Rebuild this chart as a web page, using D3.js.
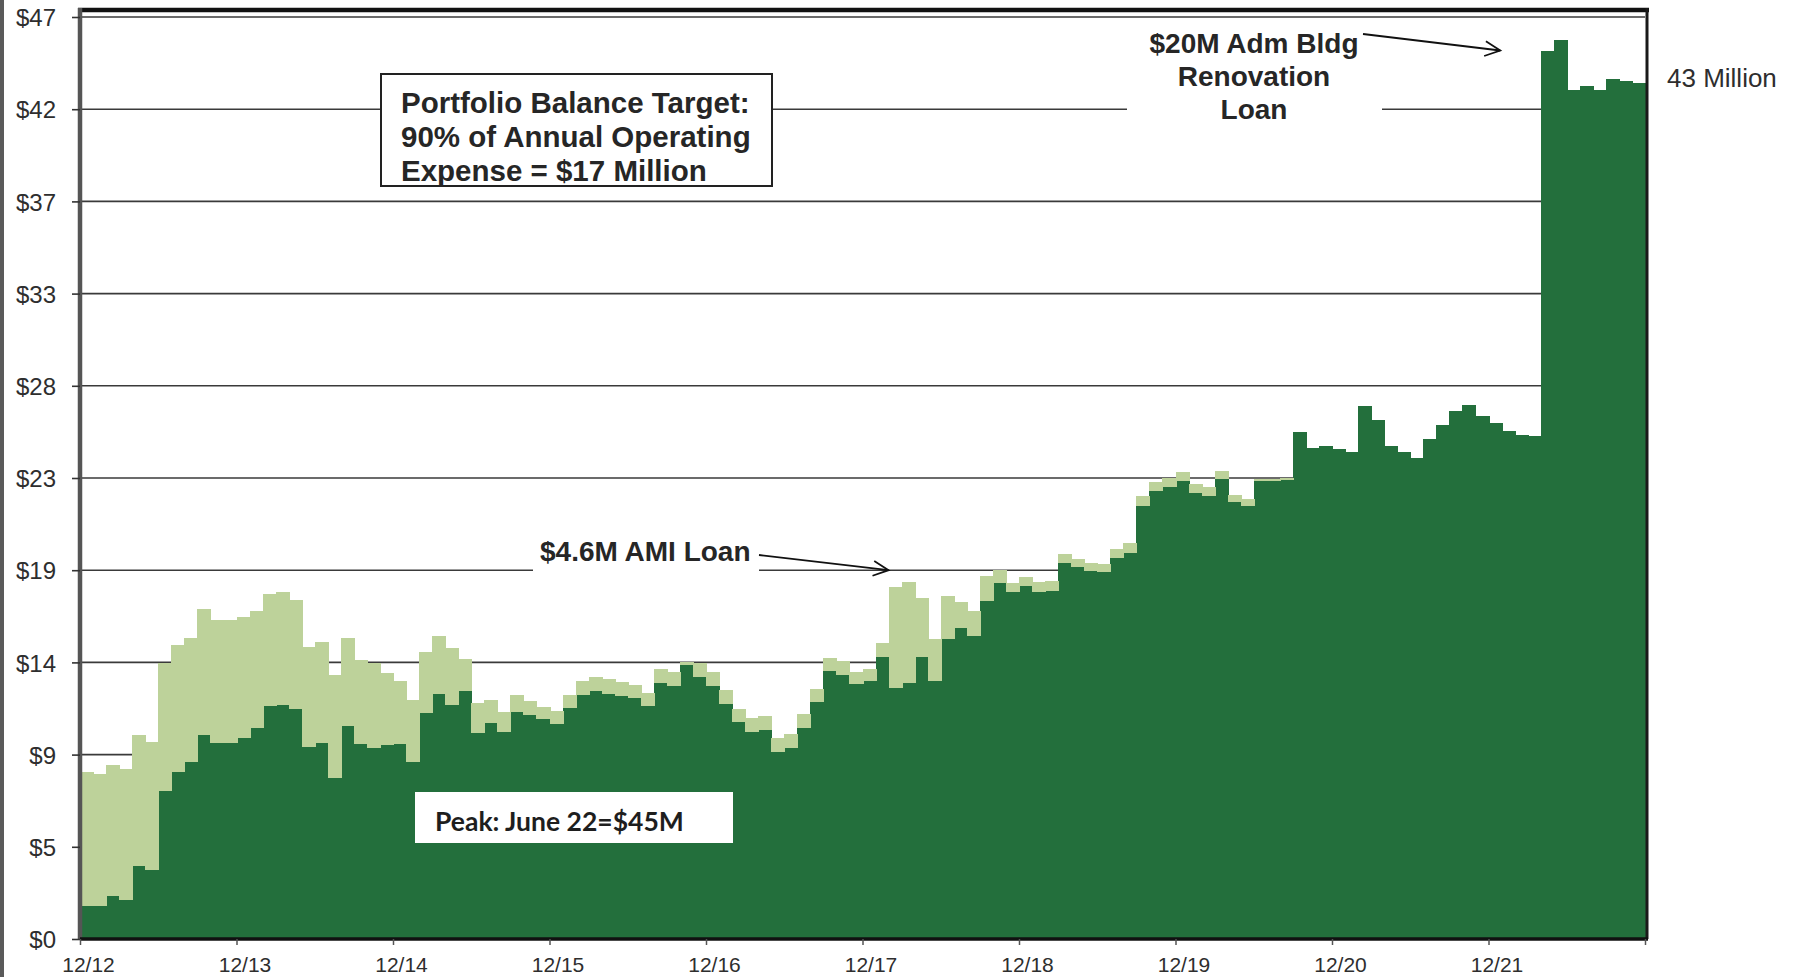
<!DOCTYPE html>
<html><head><meta charset="utf-8">
<script src="https://cdn.jsdelivr.net/npm/d3@7"></script>
<style>body{margin:0;background:#fff;overflow:hidden} svg{display:block}</style>
</head><body>
<svg id="chart" width="1794" height="977"></svg>
<script>
// ---------- DATA ----------
const months = d3.range(120).map(i => d3.timeFormat("%Y-%m")(d3.timeMonth.offset(new Date(2013, 0, 1), i)));
const darkValues = [
 1.69,1.69,2.23,1.99,3.74,3.54,7.55,8.52,8.99,10.37,9.98,9.98,
 10.25,10.74,11.85,11.89,11.69,9.78,9.98,8.18,10.84,9.9,9.73,9.85,
 9.9,9.0,11.52,12.45,11.89,12.61,10.46,11.01,10.54,11.55,11.42,11.21,
 10.96,11.77,12.43,12.61,12.45,12.35,12.24,11.87,13.02,12.89,13.94,13.31,
 12.85,11.96,11.03,10.52,10.64,9.5,9.72,10.72,12.08,13.61,13.43,12.97,
 13.11,14.36,12.77,13.02,14.36,13.14,15.25,15.8,15.39,17.2,18.08,17.62,
 17.93,17.62,17.71,19.09,18.92,18.72,18.64,19.36,19.6,22.02,22.79,22.96,
 23.25,22.67,22.5,23.38,22.19,21.99,23.26,23.26,23.3,25.71,24.91,25.03,
 24.86,24.71,27.08,26.33,25.03,24.74,24.44,25.37,26.07,26.79,27.1,26.53,
 26.19,25.77,25.6,25.55,45.09,45.63,43.08,43.3,43.1,43.64,43.56,43.47];
const lightValues = [
 6.79,6.66,6.59,6.66,6.6,6.44,6.45,6.4,6.31,6.36,6.21,6.21,
 6.11,5.92,5.64,5.73,5.51,5.03,5.08,5.23,4.42,4.27,4.3,3.64,
 3.22,3.11,3.03,2.93,2.87,1.61,1.51,1.13,0.96,0.84,0.64,0.59,
 0.59,0.62,0.69,0.71,0.74,0.67,0.65,0.64,0.68,0.67,0.13,0.68,
 0.68,0.67,0.67,0.68,0.67,0.68,0.71,0.68,0.6,0.63,0.67,0.59,
 0.59,0.64,5.11,5.11,2.97,2.11,2.17,1.31,1.27,1.23,0.64,0.46,
 0.45,0.51,0.45,0.44,0.39,0.37,0.42,0.46,0.51,0.47,0.42,0.46,
 0.44,0.41,0.42,0.39,0.34,0.34,0.07,0.1,0.08,0,0,0,
 0,0,0,0,0,0,0,0,0,0,0,0,
 0,0,0,0,0,0,0,0,0,0,0,0];
const yTickValues = [0,4.68,9.36,14.04,18.72,23.4,28.08,32.76,37.44,42.12,46.8];
const yTickLabels = ["$0","$5","$9","$14","$19","$23","$28","$33","$37","$42","$47"];
const xTickIndex = [0,12,24,36,48,60,72,84,96,108,120];
const xTickLabels = ["12/12","12/13","12/14","12/15","12/16","12/17","12/18","12/19","12/20","12/21",""];

// ---------- LAYOUT ----------
const L = 80, R = 1645, T = 17, B = 939;
const svg = d3.select("#chart");
const xIdx = d3.scaleLinear().domain([0, 120]).range([L, R]);
const xBand = d3.scaleBand().domain(months).range([L, R]).padding(0);
const y = d3.scaleLinear().domain([0, 46.8]).range([B, T]);

const table = months.map((m, i) => ({month: m, dark: darkValues[i], light: lightValues[i]}));
const series = d3.stack().keys(["dark", "light"])(table);
const colors = {dark: "#236f3c", light: "#bdd29a"};

// scan border at far left
svg.append("rect").attr("x", 0).attr("y", 0).attr("width", 4).attr("height", 977).attr("fill", "#5a5a5a");

// gridlines
svg.append("g").selectAll("line").data(yTickValues.slice(1)).join("line")
  .attr("x1", L).attr("x2", R).attr("y1", d => y(d)).attr("y2", d => y(d))
  .attr("stroke", "#3a3a3a").attr("stroke-width", 1.6);

// bars
svg.append("g").attr("shape-rendering", "crispEdges").selectAll("g").data(series).join("g")
  .attr("fill", s => colors[s.key])
  .selectAll("rect").data(s => s).join("rect")
  .attr("x", d => xBand(d.data.month))
  .attr("width", xBand.bandwidth() + 1)
  .attr("y", d => y(d[1]))
  .attr("height", d => Math.max(0, y(d[0]) - y(d[1]) + (d[1] - d[0] > 0 ? 0.5 : 0)));

// frame: top & right
svg.append("line").attr("x1", L - 2).attr("x2", R + 4).attr("y1", 10).attr("y2", 10)
  .attr("stroke", "#111").attr("stroke-width", 4.5);
svg.append("line").attr("x1", R + 2).attr("x2", R + 2).attr("y1", 8).attr("y2", B)
  .attr("stroke", "#1a1a1a").attr("stroke-width", 3);

// y axis
const yAxis = d3.axisLeft(y).tickValues(yTickValues).tickFormat((d, i) => yTickLabels[i])
  .tickSize(8).tickPadding(16);
const gy = svg.append("g").attr("transform", `translate(${L},0)`).call(yAxis);
gy.select(".domain").attr("d", `M0,8V${B}`).attr("stroke", "#555").attr("stroke-width", 4.5);
gy.selectAll(".tick line").attr("stroke", "#333").attr("stroke-width", 1.6);
gy.selectAll(".tick text").attr("font-family", "Liberation Sans, Arial, sans-serif")
  .attr("font-size", 24).attr("fill", "#2e2e2e").attr("dy", "0.36em");

// x axis
const xAxis = d3.axisBottom(xIdx).tickValues(xTickIndex).tickFormat((d, i) => xTickLabels[i])
  .tickSize(6).tickPadding(14);
const gx = svg.append("g").attr("transform", `translate(0,${B})`).call(xAxis);
gx.select(".domain").attr("d", `M${L},0H${R + 3}`).attr("stroke", "#111").attr("stroke-width", 3.5);
gx.selectAll(".tick line").attr("stroke", "#555").attr("stroke-width", 1.5);
gx.selectAll(".tick text").attr("font-family", "Liberation Sans, Arial, sans-serif")
  .attr("font-size", 21).attr("fill", "#2e2e2e").attr("dx", 8).attr("dy", "0.6em");

// ---------- ANNOTATIONS ----------
const boldFont = "Liberation Sans, Arial, sans-serif";
function arrow(x1, y1, x2, y2) {
  const g = svg.append("g").attr("stroke", "#111").attr("stroke-width", 1.8).attr("fill", "none");
  g.append("line").attr("x1", x1).attr("y1", y1).attr("x2", x2).attr("y2", y2);
  const a = Math.atan2(y2 - y1, x2 - x1), len = 17, sp = 0.45;
  g.append("path").attr("d",
    `M${x2 - len * Math.cos(a - sp)},${y2 - len * Math.sin(a - sp)}L${x2},${y2}L${x2 - len * Math.cos(a + sp)},${y2 - len * Math.sin(a + sp)}`);
}

// Portfolio balance target box
svg.append("rect").attr("x", 381).attr("y", 74).attr("width", 391).attr("height", 112)
  .attr("fill", "#fff").attr("stroke", "#222").attr("stroke-width", 2);
const pbt = svg.append("text").attr("font-family", boldFont).attr("font-weight", "bold")
  .attr("font-size", 29.5).attr("fill", "#262626");
["Portfolio Balance Target:", "90% of Annual Operating", "Expense = $17 Million"].forEach((t, i) =>
  pbt.append("tspan").attr("x", 401).attr("y", 113 + i * 34).text(t));

// $20M renovation loan
svg.append("rect").attr("x", 1127).attr("y", 26).attr("width", 255).attr("height", 100).attr("fill", "#fff");
const ren = svg.append("text").attr("font-family", boldFont).attr("font-weight", "bold")
  .attr("font-size", 28).attr("fill", "#262626").attr("text-anchor", "middle");
["$20M Adm Bldg", "Renovation", "Loan"].forEach((t, i) =>
  ren.append("tspan").attr("x", 1254).attr("y", 53 + i * 33).text(t));
arrow(1363, 34, xIdx(108.9), y(45.1));

// AMI loan
svg.append("rect").attr("x", 533).attr("y", 538).attr("width", 226).attr("height", 40).attr("fill", "#fff");
svg.append("text").attr("x", 540).attr("y", 561).attr("font-family", boldFont).attr("font-weight", "bold")
  .attr("font-size", 28).attr("fill", "#262626").text("$4.6M AMI Loan");
arrow(759, 555, xIdx(62), y(18.72));

// 43 Million label
svg.append("text").attr("x", 1667).attr("y", 87).attr("font-family", boldFont)
  .attr("font-size", 26).attr("fill", "#2e2e2e").text("43 Million");

// Peak box
svg.append("rect").attr("x", 415).attr("y", 792).attr("width", 318).attr("height", 51).attr("fill", "#fff");
svg.append("text").attr("x", 435).attr("y", 831).attr("font-family", "Lato, Open Sans, sans-serif")
  .attr("font-weight", "bold").attr("font-size", 26.5).attr("fill", "#1e1e1e").text("Peak: June 22=$45M");
</script>
</body></html>
